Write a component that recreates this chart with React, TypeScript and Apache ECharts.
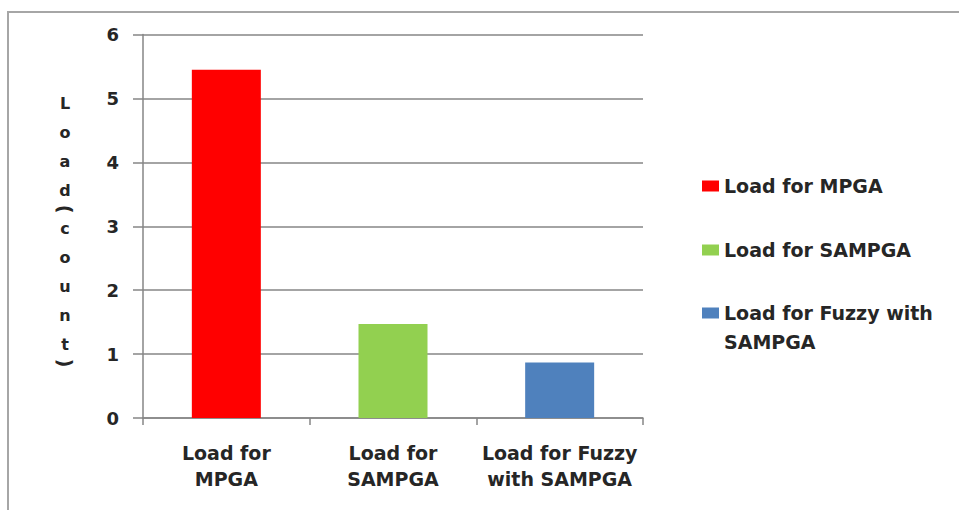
import React, { useEffect, useRef } from "react";
import * as echarts from "echarts";

const categories = ["Load for\nMPGA", "Load for\nSAMPGA", "Load for Fuzzy\nwith SAMPGA"];
const seriesNames = ["Load for MPGA", "Load for SAMPGA", "Load for Fuzzy with SAMPGA"];
const legendLabels = ["Load for MPGA", "Load for SAMPGA", " \nLoad for Fuzzy with\nSAMPGA"];
const values = [5.45, 1.47, 0.87];
const colors = ["#FF0000", "#92D050", "#4F81BD"];
const yMin = 0;
const yMax = 6;
const yInterval = 1;
const yAxisTitle = "Load(count)";

const FONT = "DejaVu Sans";
const TEXT = "#262626";
const GRID = "#868686";

export default function App() {
  const ref = useRef<HTMLDivElement>(null);
  useEffect(() => {
    if (!ref.current) return;
    const chart = echarts.init(ref.current, null, { renderer: "svg" });

    const series = seriesNames.map((name, i) => ({
      name,
      type: "bar",
      stack: "load",
      barWidth: 69,
      itemStyle: { color: colors[i] },
      data: categories.map((_, j) => (j === i ? values[i] : "-")),
    }));

    const legendTops = [171.5, 235.5, 269.5];
    const legends = seriesNames.map((name, i) => ({
      data: [name],
      left: 702,
      top: legendTops[i],
      padding: 0,
      orient: "vertical",
      itemWidth: 17,
      itemHeight: 11,
      itemGap: 7,
      icon: "rect",
      formatter: () => legendLabels[i],
      textStyle: {
        fontFamily: FONT,
        fontSize: 19,
        fontWeight: "bold",
        color: TEXT,
        lineHeight: 29,
      },
      selectedMode: false,
    }));

    // vertical stacked y-axis title
    const titleEls: any[] = [];
    let y = 103;
    const chars = yAxisTitle.split("");
    chars.forEach((ch, k) => {
      const isParen = ch === "(" || ch === ")";
      titleEls.push({
        type: "text",
        x: 65,
        y,
        rotation: isParen ? -Math.PI / 2 : 0,
        style: {
          text: ch,
          fontFamily: FONT,
          fontSize: isParen ? 19 : 16,
          fontWeight: "bold",
          fill: TEXT,
          align: "center",
          verticalAlign: "middle",
        },
      });
      const next = chars[k + 1];
      const nextParen = next === "(" || next === ")";
      y += isParen || nextParen ? 19 : 29;
    });

    chart.setOption({
      animation: false,
      backgroundColor: "#ffffff",
      grid: { left: 143, right: 316, top: 34.5, bottom: 92 },
      legend: legends,
      xAxis: {
        type: "category",
        data: categories,
        axisLine: { show: true, lineStyle: { color: GRID, width: 1.5 } },
        axisTick: { show: true, length: 7, lineStyle: { color: GRID, width: 1.5 } },
        axisLabel: {
          interval: 0,
          margin: 22,
          fontFamily: FONT,
          fontSize: 19,
          fontWeight: "bold",
          color: TEXT,
          lineHeight: 26,
        },
      },
      yAxis: {
        type: "value",
        min: yMin,
        max: yMax,
        interval: yInterval,
        axisLine: { show: true, lineStyle: { color: GRID, width: 1.5 } },
        axisTick: { show: true, length: 10, lineStyle: { color: GRID, width: 1.5 } },
        splitLine: { show: true, lineStyle: { color: GRID, width: 1.5 } },
        axisLabel: {
          margin: 24,
          fontFamily: FONT,
          fontSize: 18,
          fontWeight: "bold",
          color: TEXT,
        },
      },
      graphic: [
        {
          type: "polyline",
          shape: { points: [[8, 520], [8, 12], [970, 12]] },
          style: { stroke: "#a6a6a6", lineWidth: 2, fill: "none" },
          silent: true,
        },
        ...titleEls,
      ],
      series,
    });
    return () => chart.dispose();
  }, []);
  return (
    <div
      ref={ref}
      style={{ position: "fixed", left: 0, top: 0, width: 959, height: 510 }}
    />
  );
}
